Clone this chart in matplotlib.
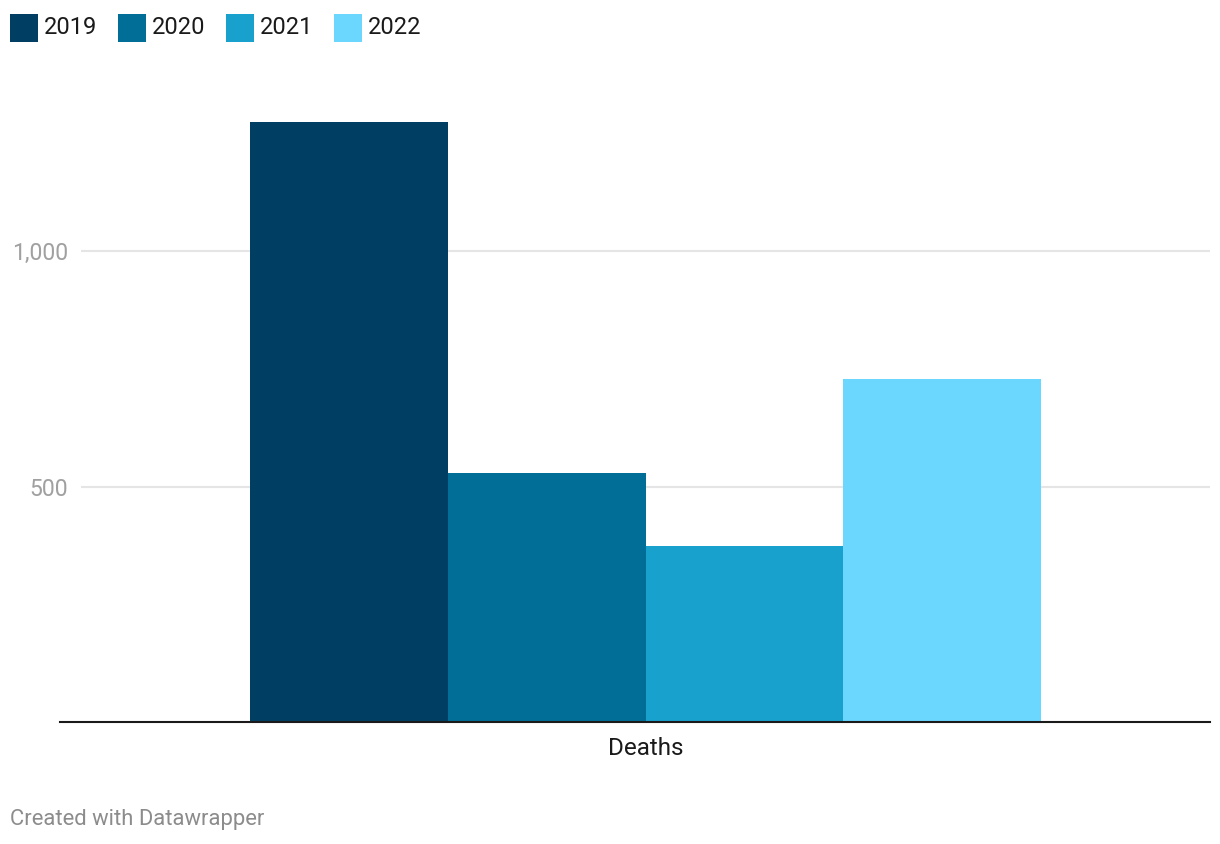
import matplotlib.pyplot as plt
from matplotlib.patches import Rectangle

plt.rcParams['font.family'] = ['Roboto', 'DejaVu Sans']

category = 'Deaths'
years = ['2019', '2020', '2021', '2022']
deaths = [1274, 529, 374, 728]
colors = ['#003f63', '#006e97', '#18a1cd', '#6bd7ff']

W, H = 1220, 844
fig = plt.figure(figsize=(W / 100, H / 100), dpi=100)
fig.patch.set_facecolor('white')

# plot area in pixels: x 81..1210, y 109..722
ax = fig.add_axes([81 / W, (H - 722) / H, 1129 / W, 613 / H])
ax.set_facecolor('white')

bar_w = 0.175
n = len(years)
for i, (yr, val, c) in enumerate(zip(years, deaths, colors)):
    x = (i - (n - 1) / 2) * bar_w
    ax.bar(x, val, width=bar_w, color=c, linewidth=0, zorder=3)

ax.set_xlim(-0.5, 0.5)
ax.set_ylim(0, 1302)

ax.set_yticks([500, 1000])
ax.set_yticklabels(['500', '1,000'])
ax.yaxis.grid(True, color='#e5e5e5', linewidth=1.5, zorder=0)
ax.tick_params(axis='y', length=0, pad=9.5, labelsize=16.6, labelcolor='#a0a0a0')

ax.set_xticks([0])
ax.set_xticklabels([category])
ax.tick_params(axis='x', length=0, pad=10.5, labelsize=17.5, labelcolor='#1a1a1a')

for s in ax.spines.values():
    s.set_visible(False)

# baseline, extends a little left of the plot area
fig.add_artist(plt.Line2D([60 / W, 1210 / W], [(H - 721.5) / H] * 2,
                          color='#1a1a1a', linewidth=1.5, zorder=5))

# legend
x0 = 10
for yr, c in zip(years, colors):
    fig.add_artist(Rectangle((x0 / W, (H - 42) / H), 28 / W, 28 / H,
                             transform=fig.transFigure, color=c, linewidth=0))
    fig.text((x0 + 34) / W, (H - 27) / H, yr, fontsize=17,
             color='#1a1a1a', va='center', ha='left')
    x0 += 108

fig.text(10 / W, (H - 820) / H, 'Created with Datawrapper', fontsize=15.8,
         color='#8c8c8c', va='center', ha='left')

fig.savefig('out.png', dpi=100, facecolor='white')
